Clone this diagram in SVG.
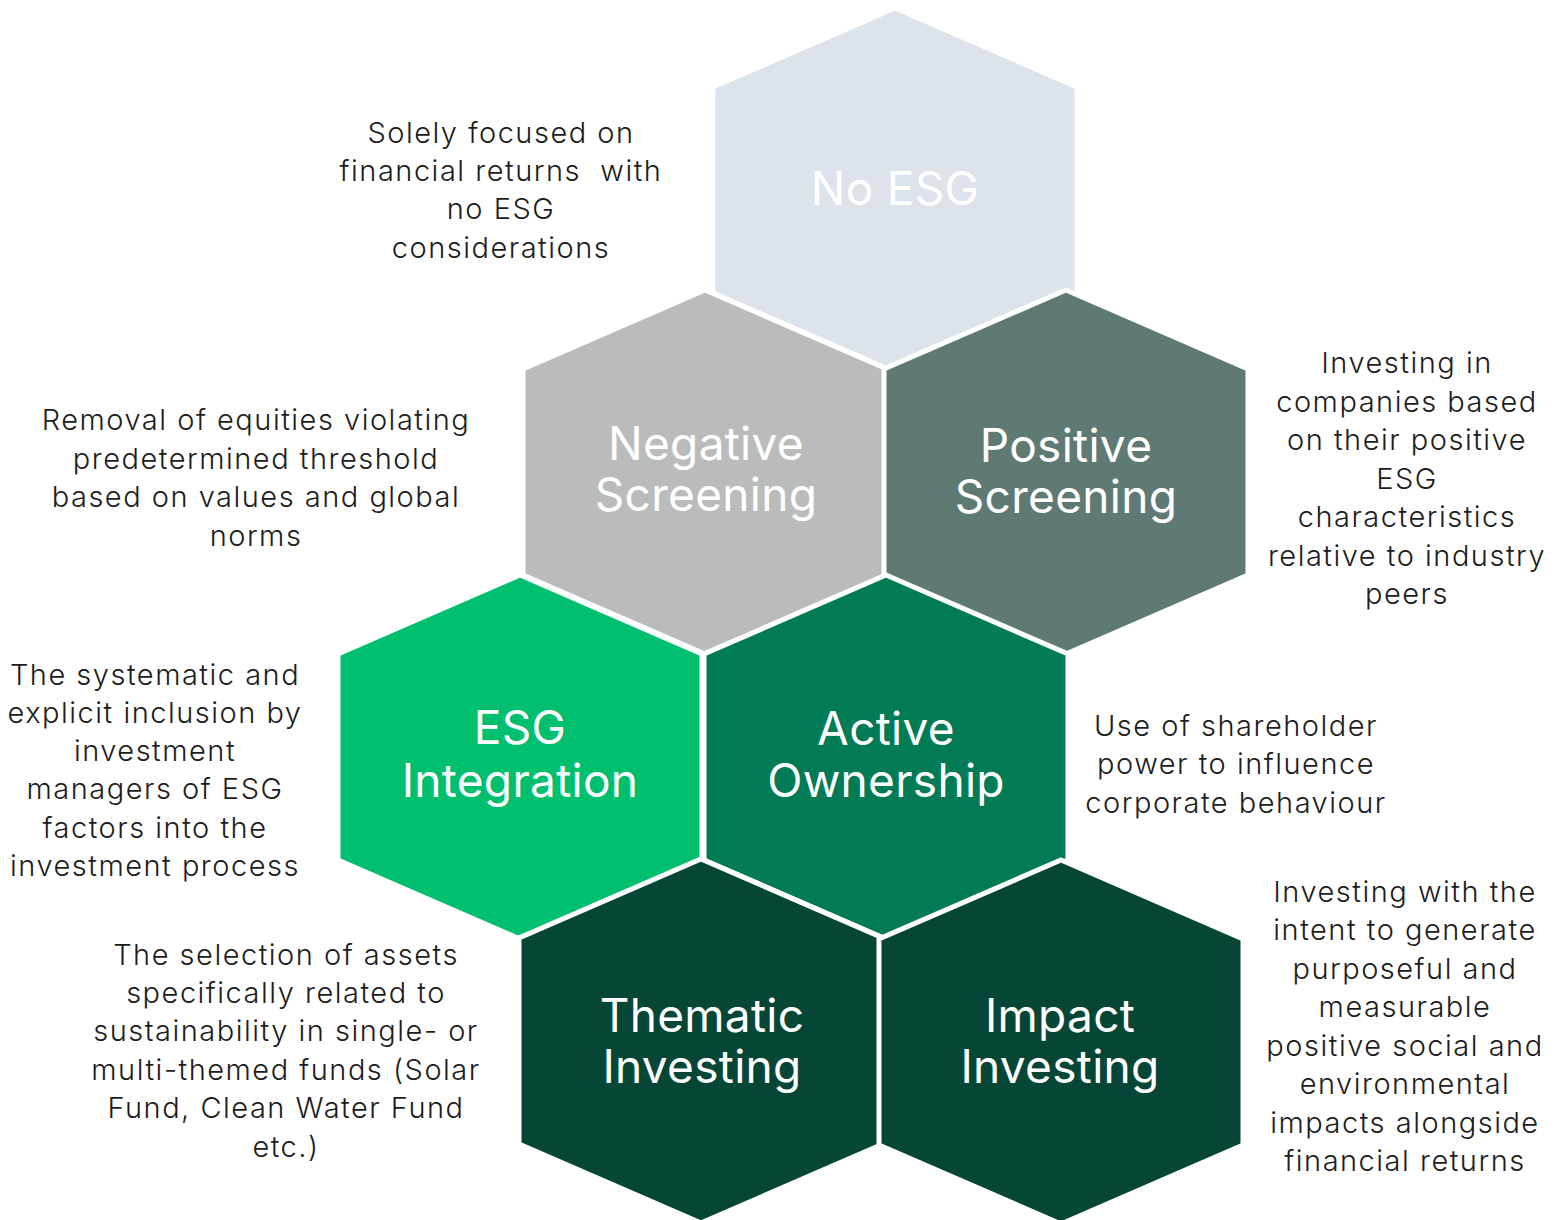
<svg xmlns="http://www.w3.org/2000/svg" width="1562" height="1220" viewBox="0 0 1562 1220">
<style>
.hex{stroke:#ffffff;stroke-width:5;stroke-linejoin:miter}
.lbl{font-family:Inter,"Liberation Sans",sans-serif;font-size:46px;fill:#ffffff;text-anchor:middle;font-weight:400;letter-spacing:0.3px}
.desc{font-family:Inter,"Liberation Sans",sans-serif;font-size:29px;fill:#1c1c1c;text-anchor:middle;font-weight:300;letter-spacing:1.5px}
.pre{white-space:pre}
</style>
<rect width="1562" height="1220" fill="#ffffff"/>
<g id="no-esg">
<polygon class="hex" fill="#dce3eb" points="895,8 1077,87 1077,293 895,372 713,293 713,87"/>
<text class="lbl" x="895" y="205">No ESG</text>
</g>
<g id="negative-screening">
<polygon class="hex" fill="#babcbb" points="705,290 887,369 887,575 705,654 523,575 523,369"/>
<text class="lbl" x="706" y="460">Negative</text>
<text class="lbl" x="706" y="511">Screening</text>
</g>
<g id="positive-screening">
<polygon class="hex" fill="#5f7a74" points="1066,290 1248,369 1248,575 1066,654 884,575 884,369"/>
<text class="lbl" x="1066" y="462">Positive</text>
<text class="lbl" x="1066" y="513">Screening</text>
</g>
<g id="esg-integration">
<polygon class="hex" fill="#00bf6f" points="520,575 702,654 702,860 520,939 338,860 338,654"/>
<text class="lbl" x="520" y="744">ESG</text>
<text class="lbl" x="520" y="797">Integration</text>
</g>
<g id="active-ownership">
<polygon class="hex" fill="#007b55" points="886,575 1068,654 1068,860 886,939 704,860 704,654"/>
<text class="lbl" x="886" y="745">Active</text>
<text class="lbl" x="886" y="797">Ownership</text>
</g>
<g id="thematic-investing">
<polygon class="hex" fill="#054637" points="701,859 883,938 883,1144 701,1223 519,1144 519,938"/>
<text class="lbl" x="702" y="1032">Thematic</text>
<text class="lbl" x="702" y="1083">Investing</text>
</g>
<g id="impact-investing">
<polygon class="hex" fill="#054637" points="1061,860 1243,939 1243,1145 1061,1224 879,1145 879,939"/>
<text class="lbl" x="1060" y="1032">Impact</text>
<text class="lbl" x="1060" y="1083">Investing</text>
</g>
<g id="descriptions">
<text class="desc"><tspan x="501" y="143">Solely focused on</tspan><tspan class="pre" x="501" y="181">financial returns  with</tspan><tspan x="501" y="219">no ESG</tspan><tspan x="501" y="258">considerations</tspan></text>
<text class="desc"><tspan x="256" y="430">Removal of equities violating</tspan><tspan x="256" y="469">predetermined threshold</tspan><tspan x="256" y="507">based on values and global</tspan><tspan x="256" y="546">norms</tspan></text>
<text class="desc"><tspan x="1407" y="373">Investing in</tspan><tspan x="1407" y="412">companies based</tspan><tspan x="1407" y="450">on their positive</tspan><tspan x="1407" y="489">ESG</tspan><tspan x="1407" y="527">characteristics</tspan><tspan x="1407" y="566">relative to industry</tspan><tspan x="1407" y="604">peers</tspan></text>
<text class="desc"><tspan x="155" y="685">The systematic and</tspan><tspan x="155" y="723">explicit inclusion by</tspan><tspan x="155" y="761">investment</tspan><tspan x="155" y="799">managers of ESG</tspan><tspan x="155" y="838">factors into the</tspan><tspan x="155" y="876">investment process</tspan></text>
<text class="desc"><tspan x="1236" y="736">Use of shareholder</tspan><tspan x="1236" y="774">power to influence</tspan><tspan x="1236" y="813">corporate behaviour</tspan></text>
<text class="desc"><tspan x="286" y="965">The selection of assets</tspan><tspan x="286" y="1003">specifically related to</tspan><tspan x="286" y="1041">sustainability in single- or</tspan><tspan x="286" y="1080">multi-themed funds (Solar</tspan><tspan x="286" y="1118">Fund, Clean Water Fund</tspan><tspan x="286" y="1157">etc.)</tspan></text>
<text class="desc"><tspan x="1405" y="902">Investing with the</tspan><tspan x="1405" y="940">intent to generate</tspan><tspan x="1405" y="979">purposeful and</tspan><tspan x="1405" y="1017">measurable</tspan><tspan x="1405" y="1056">positive social and</tspan><tspan x="1405" y="1094">environmental</tspan><tspan x="1405" y="1133">impacts alongside</tspan><tspan x="1405" y="1171">financial returns</tspan></text>
</g>
</svg>
